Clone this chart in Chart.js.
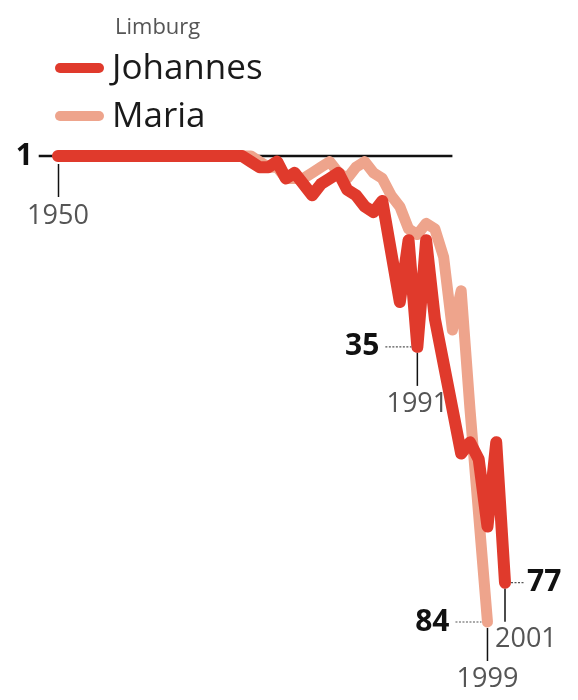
<!DOCTYPE html>
<html>
<head>
<meta charset="utf-8">
<script src="https://cdn.jsdelivr.net/npm/chart.js@4"></script>
<style>
  body { margin: 0; background: #fff; }
  #wrap { position: relative; width: 578px; height: 700px; }
</style>
</head>
<body>
<div id="wrap"><canvas id="rankChart" width="578" height="700"></canvas></div>
<script>
// Rank of first names in Limburg, 1950-2001 (1 = most popular)
const years = [1950, 1951, 1952, 1953, 1954, 1955, 1956, 1957, 1958, 1959,
    1960, 1961, 1962, 1963, 1964, 1965, 1966, 1967, 1968, 1969,
    1970, 1971, 1972, 1973, 1974, 1975, 1976, 1977, 1978, 1979,
    1980, 1981, 1982, 1983, 1984, 1985, 1986, 1987, 1988, 1989,
    1990, 1991, 1992, 1993, 1994, 1995, 1996, 1997, 1998, 1999,
    2000, 2001];

const johannesRanks = [1, 1, 1, 1, 1, 1, 1, 1, 1, 1,
    1, 1, 1, 1, 1, 1, 1, 1, 1, 1,
    1, 1, 2, 3, 3, 2, 5, 4, 6, 8,
    6, 5, 4, 7, 8, 10, 11, 9, 18, 27,
    16, 35, 16, 30, 38, 46, 54, 52, 55, 67,
    52, 77];

const mariaRanks = [1, 1, 1, 1, 1, 1, 1, 1, 1, 1,
    1, 1, 1, 1, 1, 1, 1, 1, 1, 1,
    1, 1, 1, 2, 3, 3, 5, 5, 5, 4,
    3, 2, 4, 5, 3, 2, 4, 5, 8, 10,
    14, 15, 13, 14, 19, 32, 25, 46, 65, 84];

// rank-1 reference line
const refLineYears = [1947.8, 1995];
const refLineRank = 1;

const seriesNames = ['Johannes', 'Maria'];
const regionTitle = 'Limburg';

// highlighted points
const callouts = [
    { name: 'Johannes', year: 1991, side: 'left' },
    { name: 'Maria', year: 1999, side: 'left' },
    { name: 'Johannes', year: 2001, side: 'right' }
];

const johannesColor = '#e03a2c';
const mariaColor = '#eea48c';
const FONT = '"Open Sans", "Noto Sans", sans-serif';

function toPoints(ranks) {
    return ranks.map((r, i) => ({ x: years[i], y: r }));
}

const annotations = {
    id: 'annotations',
    afterDatasetsDraw(chart) {
        const ctx = chart.ctx;
        const xs = chart.scales.x;
        const ys = chart.scales.y;
        ctx.save();

        // legend
        ctx.fillStyle = '#555';
        ctx.font = '22px ' + FONT;
        ctx.textBaseline = 'alphabetic';
        ctx.textAlign = 'left';
        ctx.fillText(regionTitle, 115, 34);

        const legendColors = [johannesColor, mariaColor];
        const legendY = [68, 116];
        seriesNames.forEach((name, i) => {
            ctx.strokeStyle = legendColors[i];
            ctx.lineWidth = 10;
            ctx.lineCap = 'round';
            ctx.beginPath();
            ctx.moveTo(60, legendY[i]);
            ctx.lineTo(99, legendY[i]);
            ctx.stroke();
            ctx.fillStyle = '#1a1a1a';
            ctx.font = '35px ' + FONT;
            ctx.textBaseline = 'middle';
            ctx.fillText(name, 112, legendY[i] + 1);
        });

        ctx.lineCap = 'butt';

        // "1" label at the start of the rank-1 line
        const y1 = ys.getPixelForValue(refLineRank);
        ctx.fillStyle = '#111';
        ctx.font = 'bold 30px ' + FONT;
        ctx.textAlign = 'right';
        ctx.textBaseline = 'middle';
        ctx.fillText(String(refLineRank), 33, y1);

        // 1950 tick
        const x0 = xs.getPixelForValue(years[0]);
        ctx.strokeStyle = '#111';
        ctx.lineWidth = 1.5;
        ctx.beginPath();
        ctx.moveTo(x0 + 0.5, y1 + 8);
        ctx.lineTo(x0 + 0.5, y1 + 41);
        ctx.stroke();
        ctx.fillStyle = '#555';
        ctx.font = '27px ' + FONT;
        ctx.textAlign = 'center';
        ctx.fillText(String(years[0]), x0, y1 + 60);

        // end / low-point callouts
        callouts.forEach(c => {
            const ranks = c.name === 'Johannes' ? johannesRanks : mariaRanks;
            const rank = ranks[years.indexOf(c.year)];
            const px = xs.getPixelForValue(c.year);
            const py = ys.getPixelForValue(rank);

            ctx.strokeStyle = '#555';
            ctx.lineWidth = 1.2;
            ctx.setLineDash([2, 1.5]);
            ctx.beginPath();
            if (c.side === 'left') {
                ctx.moveTo(px - 32, py);
                ctx.lineTo(px - 6, py);
            } else {
                ctx.moveTo(px + 6, py);
                ctx.lineTo(px + 19, py);
            }
            ctx.stroke();
            ctx.setLineDash([]);

            ctx.fillStyle = '#111';
            ctx.font = 'bold 30px ' + FONT;
            ctx.textBaseline = 'middle';
            if (c.side === 'left') {
                ctx.textAlign = 'right';
                ctx.fillText(String(rank), px - 38, py);
            } else {
                ctx.textAlign = 'left';
                ctx.fillText(String(rank), px + 22, py);
            }

            // vertical year tick
            ctx.strokeStyle = '#111';
            ctx.lineWidth = 1.5;
            ctx.beginPath();
            ctx.moveTo(px, py + 6);
            ctx.lineTo(px, py + 39);
            ctx.stroke();

            ctx.fillStyle = '#555';
            ctx.font = '27px ' + FONT;
            if (c.side === 'left') {
                ctx.textAlign = 'center';
                ctx.fillText(String(c.year), px, py + 57);
            } else {
                ctx.textAlign = 'left';
                ctx.fillText(String(c.year), px - 10, py + 57);
            }
        });

        ctx.restore();
    }
};

const ctx = document.getElementById('rankChart').getContext('2d');

new Chart(ctx, {
    type: 'line',
    data: {
        datasets: [
            {
                label: 'Johannes',
                data: toPoints(johannesRanks),
                borderColor: johannesColor,
                borderWidth: 12,
                order: 0
            },
            {
                label: 'Maria',
                data: toPoints(mariaRanks),
                borderColor: mariaColor,
                borderWidth: 11,
                order: 1
            },
            {
                label: 'rank 1',
                data: refLineYears.map(yr => ({ x: yr, y: refLineRank })),
                borderColor: '#111',
                borderWidth: 2.5,
                borderCapStyle: 'butt',
                order: 2
            }
        ]
    },
    options: {
        responsive: false,
        animation: false,
        events: [],
        layout: {
            padding: { left: 58, right: 73, top: 156, bottom: 78 }
        },
        elements: {
            line: {
                tension: 0,
                borderJoinStyle: 'round',
                borderCapStyle: 'round',
                fill: false
            },
            point: { radius: 0 }
        },
        datasets: {
            line: { clip: false }
        },
        scales: {
            x: { type: 'linear', min: 1950, max: 2001, display: false },
            y: { type: 'linear', min: 1, max: 84, reverse: true, display: false }
        },
        plugins: {
            legend: { display: false },
            tooltip: { enabled: false }
        }
    },
    plugins: [annotations]
});
</script>
</body>
</html>
